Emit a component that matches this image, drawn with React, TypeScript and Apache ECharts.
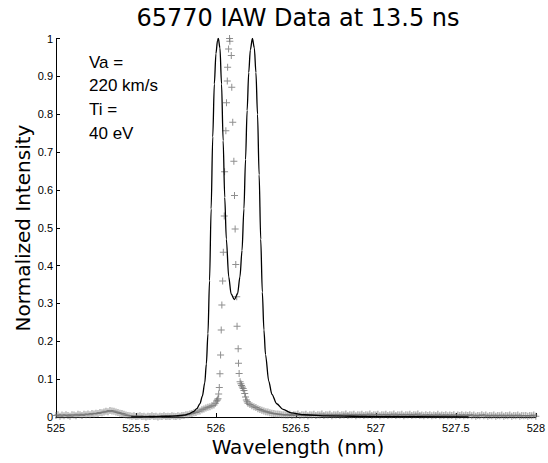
import React, { useEffect, useRef } from "react";
import * as echarts from "echarts";

const title = "65770 IAW Data at 13.5 ns";
const xLabel = "Wavelength (nm)";
const yLabel = "Normalized Intensity";
const annotation = ["Va =", "220 km/s", "Ti =", "40 eV"];

const xTicks = { min: 525, max: 528, interval: 0.5 };
const yTicks = { min: 0, max: 1, interval: 0.1 };

// fitted spectrum (black line): [wavelength, intensity]
const fitCurve: [number, number][] = [
  [525.47, 0], [525.6, 0.001], [525.7, 0.002], [525.75, 0.003], [525.8, 0.005],
  [525.83, 0.008], [525.86, 0.014], [525.88, 0.022], [525.9, 0.035], [525.915, 0.055],
  [525.93, 0.09], [525.94, 0.14], [525.95, 0.22], [525.96, 0.36], [525.97, 0.55],
  [525.98, 0.74], [525.99, 0.88], [526.0, 0.96], [526.01, 0.995], [526.015, 1.0],
  [526.025, 0.975], [526.035, 0.88], [526.045, 0.73], [526.055, 0.58], [526.065, 0.47],
  [526.08, 0.37], [526.095, 0.325], [526.115, 0.31], [526.135, 0.325], [526.15, 0.37],
  [526.163, 0.44], [526.175, 0.55], [526.185, 0.68], [526.195, 0.81], [526.205, 0.91],
  [526.215, 0.97], [526.228, 1.0], [526.24, 0.975], [526.25, 0.91], [526.26, 0.8],
  [526.27, 0.64], [526.28, 0.47], [526.29, 0.33], [526.3, 0.23], [526.31, 0.165],
  [526.33, 0.095], [526.35, 0.06], [526.38, 0.035], [526.42, 0.02], [526.47, 0.011],
  [526.55, 0.006], [526.7, 0.003], [527.0, 0.001], [527.58, 0],
];

// measured data (+ markers), left baseline: sampled every 0.0125 nm from 525.000
const baseStep = 0.0125;
const baseLeftStart = 525.0;
const baseLeft = [
  0.004, 0.006, 0.002, 0.005, 0.003, 0.006, 0.004, 0.002, 0.006, 0.005,
  0.003, 0.007, 0.006, 0.004, 0.007, 0.006, 0.008, 0.006, 0.009, 0.008,
  0.01, 0.009, 0.012, 0.011, 0.013, 0.015, 0.014, 0.017, 0.016, 0.015,
  0.013, 0.012, 0.01, 0.009, 0.007, 0.005, 0.004, 0.003, 0.002, 0.003,
  0.001, 0.002, 0.003, 0.001, 0.002, 0.0, 0.002, 0.001, 0.003, 0.001,
  0.002, 0.0, 0.002, 0.001, 0.003, 0.001, 0.002, 0.001, 0.003, 0.002,
  0.001, 0.003, 0.002, 0.004, 0.004, 0.006, 0.006, 0.008, 0.009, 0.011,
  0.012, 0.015, 0.016, 0.019, 0.021, 0.024, 0.026, 0.027, 0.03, 0.032,
];

// measured data, central peak
const peakData: [number, number][] = [
  [525.996, 0.036], [526.004, 0.042], [526.009, 0.045], [526.013, 0.048], [526.017, 0.061],
  [526.021, 0.078], [526.025, 0.114], [526.029, 0.164], [526.033, 0.23], [526.037, 0.296],
  [526.042, 0.359], [526.046, 0.435], [526.052, 0.531], [526.054, 0.648], [526.062, 0.756],
  [526.066, 0.83], [526.071, 0.888], [526.073, 0.924], [526.079, 0.972], [526.085, 1.0],
  [526.087, 0.993], [526.096, 0.955], [526.099, 0.871], [526.105, 0.779], [526.112, 0.676],
  [526.116, 0.585], [526.12, 0.497], [526.124, 0.403], [526.13, 0.318], [526.132, 0.24],
  [526.139, 0.18], [526.141, 0.142], [526.145, 0.115], [526.151, 0.093], [526.156, 0.088],
  [526.16, 0.083], [526.165, 0.079], [526.17, 0.075], [526.175, 0.07], [526.18, 0.062],
  [526.185, 0.053], [526.19, 0.045], [526.195, 0.04],
];

// measured data, right baseline: sampled every 0.0125 nm from 526.200 to 528.000
const baseRightStart = 526.2;
const baseRight = [
  0.036, 0.033, 0.03, 0.027, 0.025, 0.022, 0.02, 0.018, 0.016, 0.014,
  0.013, 0.011, 0.01, 0.009, 0.008, 0.008, 0.007, 0.006, 0.006, 0.005,
  0.005, 0.007, 0.004, 0.006, 0.005, 0.008, 0.004, 0.006, 0.005, 0.007,
  0.003, 0.006, 0.005, 0.007, 0.004, 0.006, 0.005, 0.008, 0.004, 0.006,
  0.005, 0.007, 0.003, 0.006, 0.005, 0.007, 0.004, 0.006, 0.005, 0.008,
  0.004, 0.006, 0.005, 0.007, 0.003, 0.006, 0.005, 0.007, 0.004, 0.006,
  0.005, 0.008, 0.004, 0.006, 0.005, 0.007, 0.003, 0.006, 0.005, 0.007,
  0.004, 0.006, 0.005, 0.008, 0.004, 0.006, 0.005, 0.007, 0.003, 0.006,
  0.005, 0.007, 0.004, 0.006, 0.005, 0.008, 0.004, 0.005, 0.003, 0.006,
  0.004, 0.006, 0.003, 0.005, 0.004, 0.007, 0.003, 0.005, 0.004, 0.006,
  0.003, 0.005, 0.004, 0.006, 0.002, 0.005, 0.004, 0.006, 0.003, 0.005,
  0.004, 0.006, 0.003, 0.005, 0.002, 0.004, 0.003, 0.006, 0.003, 0.005,
  0.002, 0.004, 0.003, 0.005, 0.002, 0.004, 0.003, 0.005, 0.002, 0.004,
  0.003, 0.005, 0.002, 0.004, 0.003, 0.005, 0.002, 0.004, 0.003, 0.004,
  0.002, 0.004, 0.003, 0.005, 0.002,
];

const plus = "path://M3,0h1v3h3v1h-3v3h-1v-3h-3v-1h3z";

export default function App() {
  const ref = useRef<HTMLDivElement>(null);
  useEffect(() => {
    if (!ref.current) return;
    const chart = echarts.init(ref.current, undefined, { renderer: "svg" });
    const measured: [number, number][] = [
      ...baseLeft.map((v, i) => [+(baseLeftStart + i * baseStep).toFixed(4), v] as [number, number]),
      ...peakData,
      ...baseRight.map((v, i) => [+(baseRightStart + i * baseStep).toFixed(4), v] as [number, number]),
    ];
    const font = "'DejaVu Sans', sans-serif";
    const tickFont = "'Liberation Sans', Arial, sans-serif";
    chart.setOption({
      animation: false,
      backgroundColor: "#fff",
      grid: { left: 56, right: 8, top: 38.5, bottom: 46 },
      xAxis: {
        type: "value",
        min: xTicks.min,
        max: xTicks.max,
        interval: xTicks.interval,
        axisLine: { show: true, lineStyle: { color: "#000", width: 1 } },
        axisTick: { show: true, inside: true, length: 4, lineStyle: { color: "#000" } },
        axisLabel: { fontSize: 11, color: "#000", fontFamily: tickFont, margin: 5 },
        splitLine: { show: false },
      },
      yAxis: {
        type: "value",
        min: yTicks.min,
        max: yTicks.max,
        interval: yTicks.interval,
        axisLine: { show: true, lineStyle: { color: "#000", width: 1 } },
        axisTick: { show: true, inside: true, length: 4, lineStyle: { color: "#000" } },
        axisLabel: { fontSize: 11, color: "#000", fontFamily: tickFont, margin: 3 },
        splitLine: { show: false },
      },
      series: [
        {
          type: "scatter",
          data: measured,
          symbol: plus,
          symbolSize: 7,
          clip: false,
          itemStyle: { color: "#737373" },
          z: 2,
        },
        {
          type: "line",
          data: fitCurve,
          showSymbol: false,
          smooth: 0.3,
          smoothMonotone: "x",
          lineStyle: { color: "#000", width: 1.3 },
          z: 3,
        },
      ],
      graphic: [
        {
          type: "text",
          x: 298,
          y: 18,
          style: { text: title, font: `24px ${font}`, fill: "#000", textAlign: "center", textVerticalAlign: "middle" },
        },
        {
          type: "text",
          x: 298,
          y: 447,
          style: { text: xLabel, font: `20px ${font}`, fill: "#000", textAlign: "center", textVerticalAlign: "middle" },
        },
        {
          type: "text",
          x: 23,
          y: 228,
          rotation: Math.PI / 2,
          style: { text: yLabel, font: `20px ${font}`, fill: "#000", textAlign: "center", textVerticalAlign: "middle" },
        },
        ...annotation.map((t, i) => ({
          type: "text",
          x: 89,
          y: 62 + i * 23.7,
          style: { text: t, font: `17px ${tickFont}`, fill: "#000", textAlign: "left", textVerticalAlign: "middle" },
        })),
      ],
    });
    return () => chart.dispose();
  }, []);
  return <div ref={ref} style={{ position: "absolute", left: 0, top: 0, width: 548, height: 463 }} />;
}
